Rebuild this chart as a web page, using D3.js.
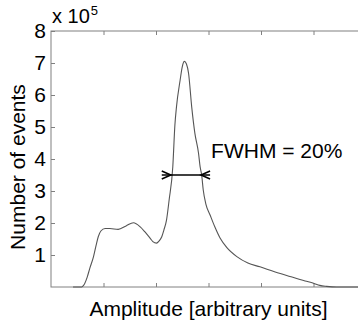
<!DOCTYPE HTML>
<html>
<head>
  <meta charset="utf-8">
  <title>FWHM histogram</title>
  <script src="https://d3js.org/d3.v7.min.js"></script>
  <style>
    body { margin: 0; background: #fff; }
    text { font-family: "Liberation Sans", Arial, sans-serif; fill: #000; }
  </style>
</head>
<body>
  <script>
    // amplitude (arbitrary units, tick spacing = 1) and counts in units of 1e5
    const amplitude = [0.42, 0.585, 0.62, 0.69, 0.74, 0.81, 0.86, 0.90, 0.95, 1.03, 1.12, 1.28, 1.43, 1.57,
      1.70, 1.79, 1.89, 1.94, 2.01, 2.06, 2.11, 2.15, 2.20, 2.25, 2.32, 2.36, 2.39, 2.46, 2.50, 2.54,
      2.58, 2.62, 2.68, 2.74, 2.81, 2.84, 2.87, 2.90, 2.95, 3.03, 3.12, 3.22, 3.35, 3.54, 3.75, 3.98,
      4.27, 4.55, 4.84, 5.00, 5.12, 5.25, 5.44, 5.90];
    const events = [0, 0, 0.05, 0.31, 0.59, 0.95, 1.31, 1.57, 1.75, 1.83, 1.83, 1.80, 1.91, 2.01,
      1.88, 1.72, 1.52, 1.42, 1.37, 1.44, 1.57, 1.78, 2.09, 2.72, 3.76, 5.06, 5.63, 6.47, 6.88, 7.05,
      6.97, 6.68, 5.63, 4.81, 4.18, 3.76, 3.50, 3.03, 2.59, 2.25, 1.88, 1.53, 1.23, 0.95, 0.75, 0.63,
      0.47, 0.33, 0.19, 0.12, 0.05, 0.02, 0, 0];
    const yTicks = [1, 2, 3, 4, 5, 6, 7, 8];
    const xTicks = [1, 2, 3, 4, 5];
    const fwhm = { from: 2.11, to: 3.03, level: 3.5, label: 'FWHM = 20%' };

    const width = 358, height = 320;
    const svg = d3.select('body').append('svg')
      .attr('width', width)
      .attr('height', height);

    const x = d3.scaleLinear().domain([0, 6]).range([51, 366]);
    const y = d3.scaleLinear().domain([0, 8]).range([287, 31]);

    const axisColor = '#808080';

    // frame
    svg.append('rect')
      .attr('x', x(0)).attr('y', y(8))
      .attr('width', x(6) - x(0)).attr('height', y(0) - y(8))
      .attr('fill', 'none').attr('stroke', axisColor).attr('stroke-width', 1);

    const styleAxis = (g) => {
      g.select('.domain').remove();
      g.selectAll('.tick line').attr('stroke', axisColor);
    };

    svg.append('g')
      .attr('transform', `translate(${x(0)},0)`)
      .call(d3.axisLeft(y).tickValues(yTicks).tickSize(-4).tickSizeOuter(0).tickPadding(5))
      .call(styleAxis)
      .selectAll('text')
      .attr('font-size', 21).attr('fill', '#000').attr('font-family', '"Liberation Sans", Arial, sans-serif');

    svg.append('g')
      .attr('transform', `translate(0,${y(0)})`)
      .call(d3.axisBottom(x).tickValues(xTicks).tickSize(-4).tickFormat(''))
      .call(styleAxis);

    svg.append('g')
      .attr('transform', `translate(0,${y(8)})`)
      .call(d3.axisTop(x).tickValues(xTicks).tickSize(-4).tickFormat(''))
      .call(styleAxis);

    // curve
    const points = amplitude.map((a, i) => [a, events[i]]);
    svg.append('path')
      .datum(points)
      .attr('fill', 'none')
      .attr('stroke', '#555')
      .attr('stroke-width', 1.1)
      .attr('d', d3.line()
        .x(d => x(d[0]))
        .y(d => y(d[1]))
        .curve(d3.curveMonotoneX));

    // FWHM arrow
    const ay = y(fwhm.level);
    const x1 = x(fwhm.from), x2 = x(fwhm.to);
    svg.append('line')
      .attr('x1', x1).attr('x2', x2).attr('y1', ay).attr('y2', ay)
      .attr('stroke', '#000').attr('stroke-width', 1.6);
    // arrowheads pointing inward
    const head = (tipX, dir) => `M${tipX - dir * 9},${ay - 4} L${tipX},${ay} L${tipX - dir * 9},${ay + 4}`;
    svg.append('path').attr('d', head(x1 + 9, 1))
      .attr('fill', 'none').attr('stroke', '#000').attr('stroke-width', 1.6);
    svg.append('path').attr('d', head(x2 - 9, -1))
      .attr('fill', 'none').attr('stroke', '#000').attr('stroke-width', 1.6);

    svg.append('text')
      .attr('x', x2 + 1).attr('y', 158)
      .attr('font-size', 21)
      .text(fwhm.label);

    // exponent
    const expo = svg.append('text')
      .attr('x', 52).attr('y', 23)
      .attr('font-size', 20);
    expo.append('tspan').text('x 10');
    expo.append('tspan').attr('font-size', 13).attr('dy', -8).attr('dx', 1).text('5');

    // axis titles
    svg.append('text')
      .attr('x', (x(0) + x(6)) / 2).attr('y', 316)
      .attr('text-anchor', 'middle')
      .attr('font-size', 21)
      .text('Amplitude [arbitrary units]');

    svg.append('text')
      .attr('transform', 'translate(25,167) rotate(-90)')
      .attr('text-anchor', 'middle')
      .attr('font-size', 21)
      .text('Number of events');
  </script>
</body>
</html>
